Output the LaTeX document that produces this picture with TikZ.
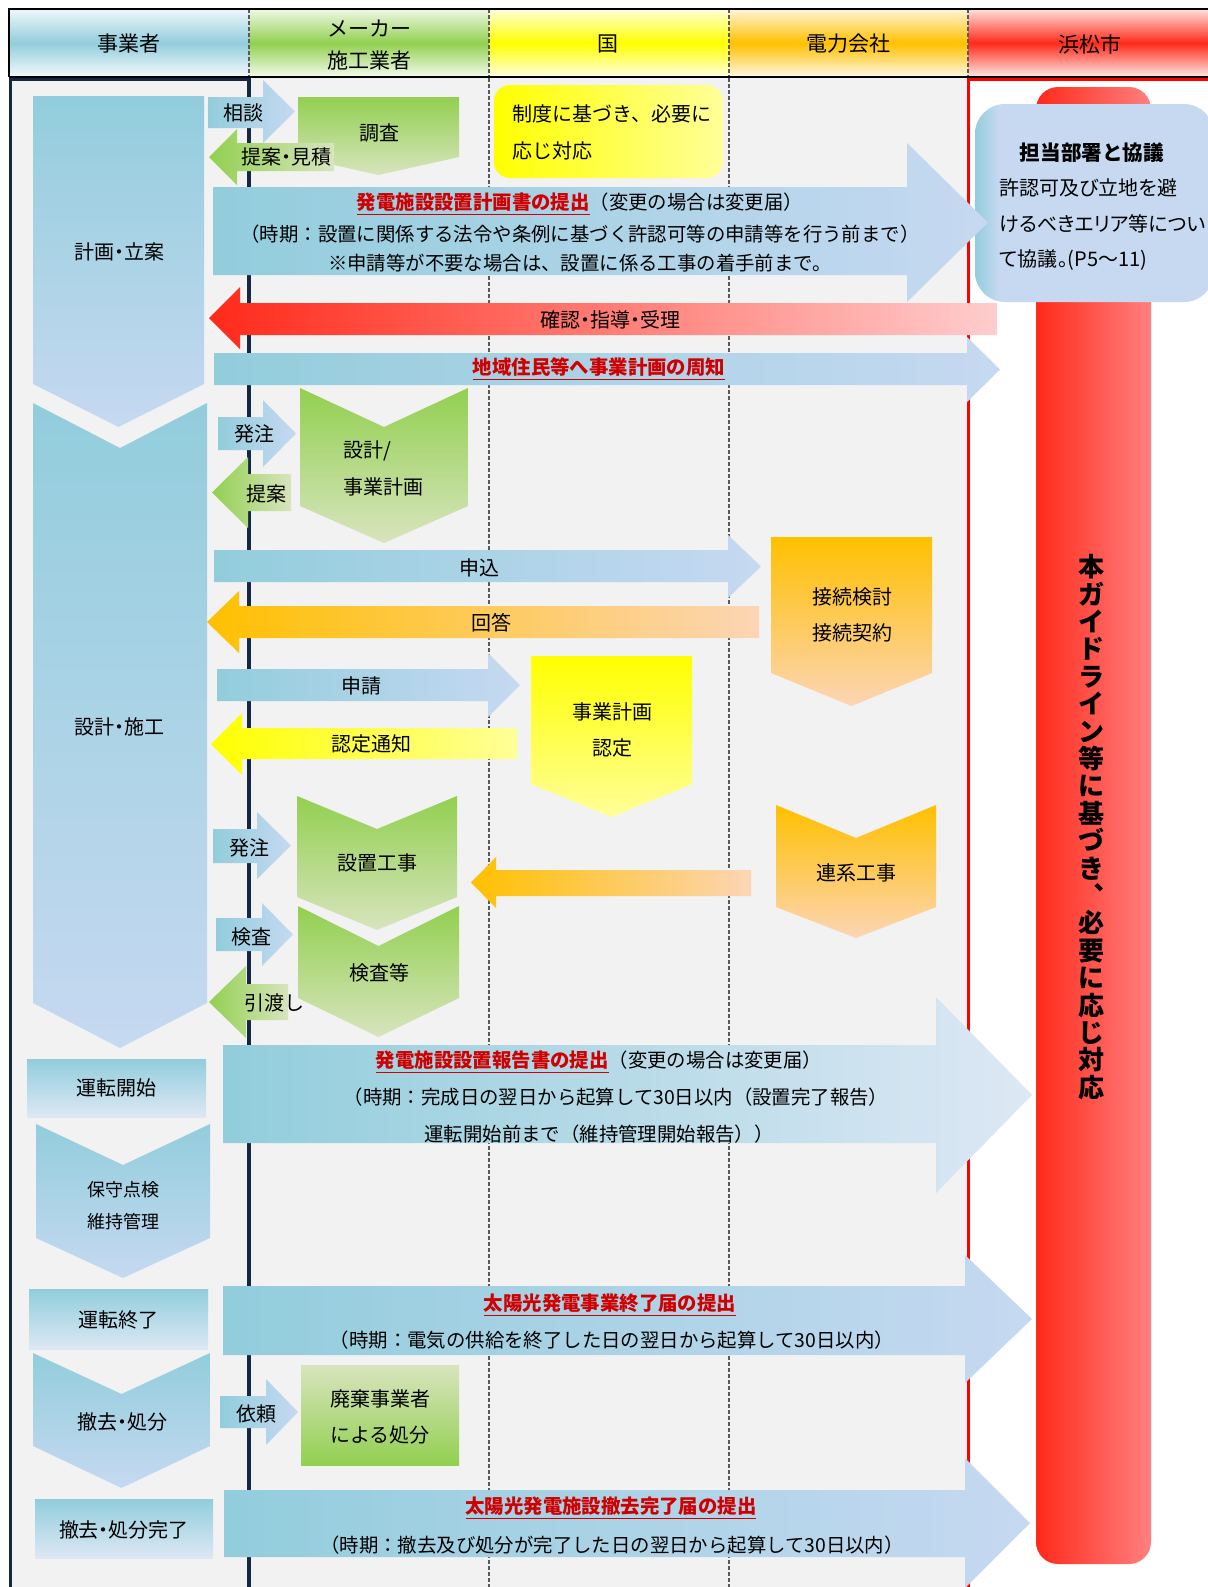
\documentclass[tikz,border=0pt]{standalone}
\usepackage{fontspec}
\setmainfont{Noto Sans CJK JP}
\definecolor{bA}{HTML}{92CDDC}
\definecolor{bB}{HTML}{C6D9F1}
\definecolor{bC}{HTML}{DDE8F4}
\definecolor{gA}{HTML}{92D050}
\definecolor{gB}{HTML}{D8E4BE}
\definecolor{yA}{HTML}{FFFF00}
\definecolor{yB}{HTML}{FFFF99}
\definecolor{oA}{HTML}{FFC000}
\definecolor{oB}{HTML}{FCD5B5}
\definecolor{rA}{HTML}{FF2A1A}
\definecolor{rB}{HTML}{FFCDCD}
\definecolor{rC}{HTML}{FF8080}
\definecolor{bgg}{HTML}{F2F2F2}
\definecolor{navy}{HTML}{142844}
\definecolor{dred}{HTML}{D00000}
\definecolor{sepg}{HTML}{595959}
\pgfdeclarehorizontalshading{tantou}{100bp}{color(0bp)=(bA); color(25bp)=(bA); color(30bp)=(bB); color(100bp)=(bB)}
\newcommand\redu[1]{\textcolor{dred}{\bfseries\underline{#1}}}
\newcommand\RArr[8]{\path[#1] (#2,#5) -- (#3,#5) -- (#3,#7) -- (#4,{(#7+#8)/2}) -- (#3,#8) -- (#3,#6) -- (#2,#6) -- cycle;}
\newcommand\LArr[8]{\path[#1] (#4,#5) -- (#3,#5) -- (#3,#7) -- (#2,{(#7+#8)/2}) -- (#3,#8) -- (#3,#6) -- (#4,#6) -- cycle;}
\newcommand\Chev[7]{\path[#1] (#2,#4) -- ({(#2+#3)/2},#5) -- (#3,#4) -- (#3,#6) -- ({(#2+#3)/2},#7) -- (#2,#6) -- cycle;}
\newcommand\Pent[6]{\path[#1] (#2,#4) -- (#3,#4) -- (#3,#5) -- ({(#2+#3)/2},#6) -- (#2,#5) -- cycle;}
\tikzset{
 lbl/.style={inner sep=0pt, font=\fontsize{10}{12}\selectfont, text=black},
 lblp/.style={inner sep=0pt, font=\fontsize{10}{12}\selectfont\addfontfeatures{RawFeature=+palt}, text=black},
 sml/.style={inner sep=0pt, font=\fontsize{9}{11}\selectfont, text=black},
 bigt/.style={inner sep=0pt, font=\fontsize{9.7}{12}\selectfont, text=black},
 hdr/.style={inner sep=0pt, font=\fontsize{10.5}{12}\selectfont, text=black},
 bH/.style={left color=bA, right color=bB},
 bHl/.style={left color=bA, right color=bC},
 bV/.style={top color=bA, bottom color=bB},
 bVl/.style={top color=bA, bottom color=bC},
 gH/.style={left color=gA, right color=gB},
 gV/.style={top color=gA, bottom color=gB},
 gVr/.style={top color=gB, bottom color=gA},
 yH/.style={left color=yA, right color=yB},
 yV/.style={top color=yA, bottom color=yB},
 oH/.style={left color=oA, right color=oB},
 oV/.style={top color=oA, bottom color=oB},
 rH/.style={left color=rA, right color=rB},
 sepline/.style={sepg, line width=0.6pt, dash pattern=on 2pt off 1pt},
}
\begin{document}
\begin{tikzpicture}[x=0.5pt,y=-0.5pt]
\useasboundingbox (0,0) rectangle (1208,1587);
\fill[white] (0,0) rectangle (1208,1587);
% header
\path[top color=bA!15, bottom color=bA!10, middle color=bA] (9,9) rectangle (249,77);
\path[top color=gA!15, bottom color=gA!10, middle color=gA] (249,9) rectangle (489,77);
\path[top color=yA!15, bottom color=yA!10, middle color=yA] (489,9) rectangle (729,77);
\path[top color=oA!15, bottom color=oA!10, middle color=oA] (729,9) rectangle (968,77);
\path[top color=rA!15, bottom color=rA!10, middle color=rA] (968,9) rectangle (1208,77);
\foreach \xx in {249,489,729,968} \draw[sepline] (\xx,9) -- (\xx,77);
\draw[black, line width=1pt] (1208,9) -- (9,9) -- (9,77);
\draw[black, line width=1.5pt] (9,77) -- (1208,77);
\node[hdr] (h1) at (129,44) {事業者};
\node[hdr] (h2a) at (369,29) {メーカー};
\node[hdr] (h2b) at (369,61) {施工業者};
\node[hdr] (h3) at (608,44) {国};
\node[hdr] (h4) at (848,44) {電力会社};
\node[hdr] (h5) at (1090,44) {浜松市};
% body
\fill[bgg] (9,78) rectangle (968,1587);
\draw[sepline] (489,78) -- (489,1587);
\draw[sepline] (729,78) -- (729,1587);
\draw[navy, line width=1.5pt] (10.5,1587) -- (10.5,79) -- (249,79);
\draw[navy, line width=2pt] (249,78) -- (249,1587);
\draw[red, line width=1.5pt] (968,1587) -- (968,79) -- (1208,79);
% red bar
\path[left color=rA, right color=rC, rounded corners=11pt] (1036,87) rectangle (1151,1564);
\node[inner sep=0pt, align=center, font=\fontsize{13}{13.7}\selectfont\bfseries] (vt) at (1091,827)
 {本\\ガ\\イ\\ド\\ラ\\イ\\ン\\等\\に\\基\\づ\\き\\︑\\必\\要\\に\\応\\じ\\対\\応};
% tantou box
\path[shading=tantou, rounded corners=15pt] (975,104) rectangle (1214,302);
\node[inner sep=0pt, font=\fontsize{10.3}{12}\selectfont\bfseries] (tb0) at (1092,153) {担当部署と協議};
\node[lblp, anchor=west] (tb1) at (999,188) {許認可及び立地を避};
\node[lblp, anchor=west] (tb2) at (999,224) {けるべきエリア等につい};
\node[lblp, anchor=west] (tb3) at (999,260) {て協議。(P5～11)};
% yellow box
\path[yH, rounded corners=8pt] (494,85) rectangle (723,178);
\node[lbl, anchor=west] (yb1) at (512,114) {制度に基づき、必要に};
\node[lbl, anchor=west] (yb2) at (512,151) {応じ対応};
% left column
\Pent{bV}{33}{204}{96}{384}{427}
\Chev{bV}{33}{207}{403}{448}{1003}{1048}
\path[bVl] (27,1059) rectangle (206,1117);
\Chev{bV}{36}{210}{1124}{1165}{1238}{1278}
\path[bVl] (29,1289) rectangle (208,1349);
\Chev{bV}{33}{210}{1353}{1394}{1446}{1488}
\path[bVl] (35,1499) rectangle (213,1558);
\node[lblp] (c1) at (120,252) {計画・立案};
\node[lblp] (c2) at (120,727) {設計・施工};
\node[lbl] (c3) at (116,1088) {運転開始};
\node[sml] (c4a) at (123,1190) {保守点検};
\node[sml] (c4b) at (123,1222) {維持管理};
\node[lbl] (c5) at (118,1320) {運転終了};
\node[lblp] (c6) at (122,1422) {撤去・処分};
\node[lblp] (c7) at (124,1530) {撤去・処分完了};
% top part
\Pent{gV}{298}{459}{97}{157}{175}
\RArr{bH}{208}{263}{295}{97}{128}{80}{143}
\LArr{gH}{209}{237}{334}{143}{171}{129}{185}
\node[lbl] (s1) at (243,113) {相談};
\node[lblp] (s2) at (286,157) {提案・見積};
\node[lbl] (s3) at (379,133) {調査};
\RArr{bH}{213}{907}{988}{187}{275}{143}{302}
\node[bigt] (a1l1) at (580,204) {\redu{発電施設設置計画書の提出}（変更の場合は変更届）};
\node[bigt] (a1l2) at (580,234) {（時期：設置に関係する法令や条例に基づく許認可等の申請等を行う前まで）};
\node[bigt] (a1l3) at (580,263) {※申請等が不要な場合は、設置に係る工事の着手前まで。};
\LArr{rH}{209}{240}{997}{303}{335}{287}{349}
\node[lblp] (a2) at (610,320) {確認・指導・受理};
\RArr{bH}{214}{967}{1000}{353}{385}{337}{402}
\node[bigt] (a3) at (599,369) {\redu{地域住民等へ事業計画の周知}};
% design
\Chev{gV}{300}{468}{388}{427}{506}{543}
\RArr{bH}{218}{263}{296}{417}{450}{400}{467}
\LArr{gH}{212}{248}{291}{474}{511}{457}{528}
\node[lbl] (d1) at (254,434) {発注};
\node[lbl] (d2) at (266,494) {提案};
\node[lbl, anchor=west] (d3a) at (343,451) {設計/};
\node[lbl, anchor=west] (d3b) at (343,487) {事業計画};
% grid connection
\Pent{oV}{771}{932}{537}{673}{706}
\RArr{bH}{214}{728}{761}{550}{582}{535}{598}
\LArr{oH}{207}{239}{759}{606}{638}{591}{653}
\node[lbl] (e1) at (479,568) {申込};
\node[lbl] (e2) at (491,623) {回答};
\node[lbl] (e3a) at (852,597) {接続検討};
\node[lbl] (e3b) at (852,633) {接続契約};
% approval
\Pent{yV}{531}{692}{656}{784}{817}
\RArr{bH}{217}{488}{520}{669}{701}{653}{717}
\LArr{yH}{211}{242}{517}{728}{759}{713}{775}
\node[lbl] (f1) at (361,686) {申請};
\node[lbl] (f2) at (371,744) {認定通知};
\node[lbl] (f3a) at (612,712) {事業計画};
\node[lbl] (f3b) at (612,748) {認定};
% construction
\Chev{oV}{776}{936}{805}{838}{907}{938}
\Chev{gV}{297}{457}{796}{829}{897}{930}
\LArr{oH}{471}{496}{751}{870}{896}{857}{908}
\RArr{bH}{213}{257}{291}{829}{863}{812}{879}
\Chev{gV}{298}{459}{906}{946}{998}{1037}
\RArr{bH}{216}{262}{293}{918}{951}{903}{966}
\LArr{gH}{209}{246}{288}{984}{1020}{966}{1038}
\node[lbl] (k1) at (856,873) {連系工事};
\node[lbl] (k2) at (377,863) {設置工事};
\node[lbl] (k3) at (249,848) {発注};
\node[lbl] (k4) at (251,937) {検査};
\node[lbl] (k5) at (379,973) {検査等};
\node[lbl] (k6) at (274,1003) {引渡し};
% report
\RArr{bHl}{223}{936}{1032}{1045}{1143}{997}{1193}
\node[bigt] (r1) at (599,1062) {\redu{発電施設設置報告書の提出}（変更の場合は変更届）};
\node[bigt] (r2) at (616,1097) {（時期：完成日の翌日から起算して30日以内（設置完了報告）};
\node[bigt] (r3) at (599,1134) {運転開始前まで（維持管理開始報告））};
% end
\RArr{bH}{223}{965}{1032}{1286}{1355}{1255}{1383}
\node[bigt] (n1) at (610,1305) {\redu{太陽光発電事業終了届の提出}};
\node[bigt] (n2) at (612,1340) {（時期：電気の供給を終了した日の翌日から起算して30日以内）};
\path[gVr] (301,1365) rectangle (459,1465);
\RArr{bH}{220}{266}{298}{1396}{1428}{1379}{1445}
\node[lbl] (w1) at (256,1414) {依頼};
\node[lbl] (w2a) at (380,1399) {廃棄事業者};
\node[lbl] (w2b) at (380,1435) {による処分};
\RArr{bH}{224}{965}{1030}{1490}{1557}{1458}{1588}
\node[bigt] (m1) at (611,1508) {\redu{太陽光発電施設撤去完了届の提出}};
\node[bigt] (m2) at (612,1545) {（時期：撤去及び処分が完了した日の翌日から起算して30日以内）};
\end{tikzpicture}
\end{document}
